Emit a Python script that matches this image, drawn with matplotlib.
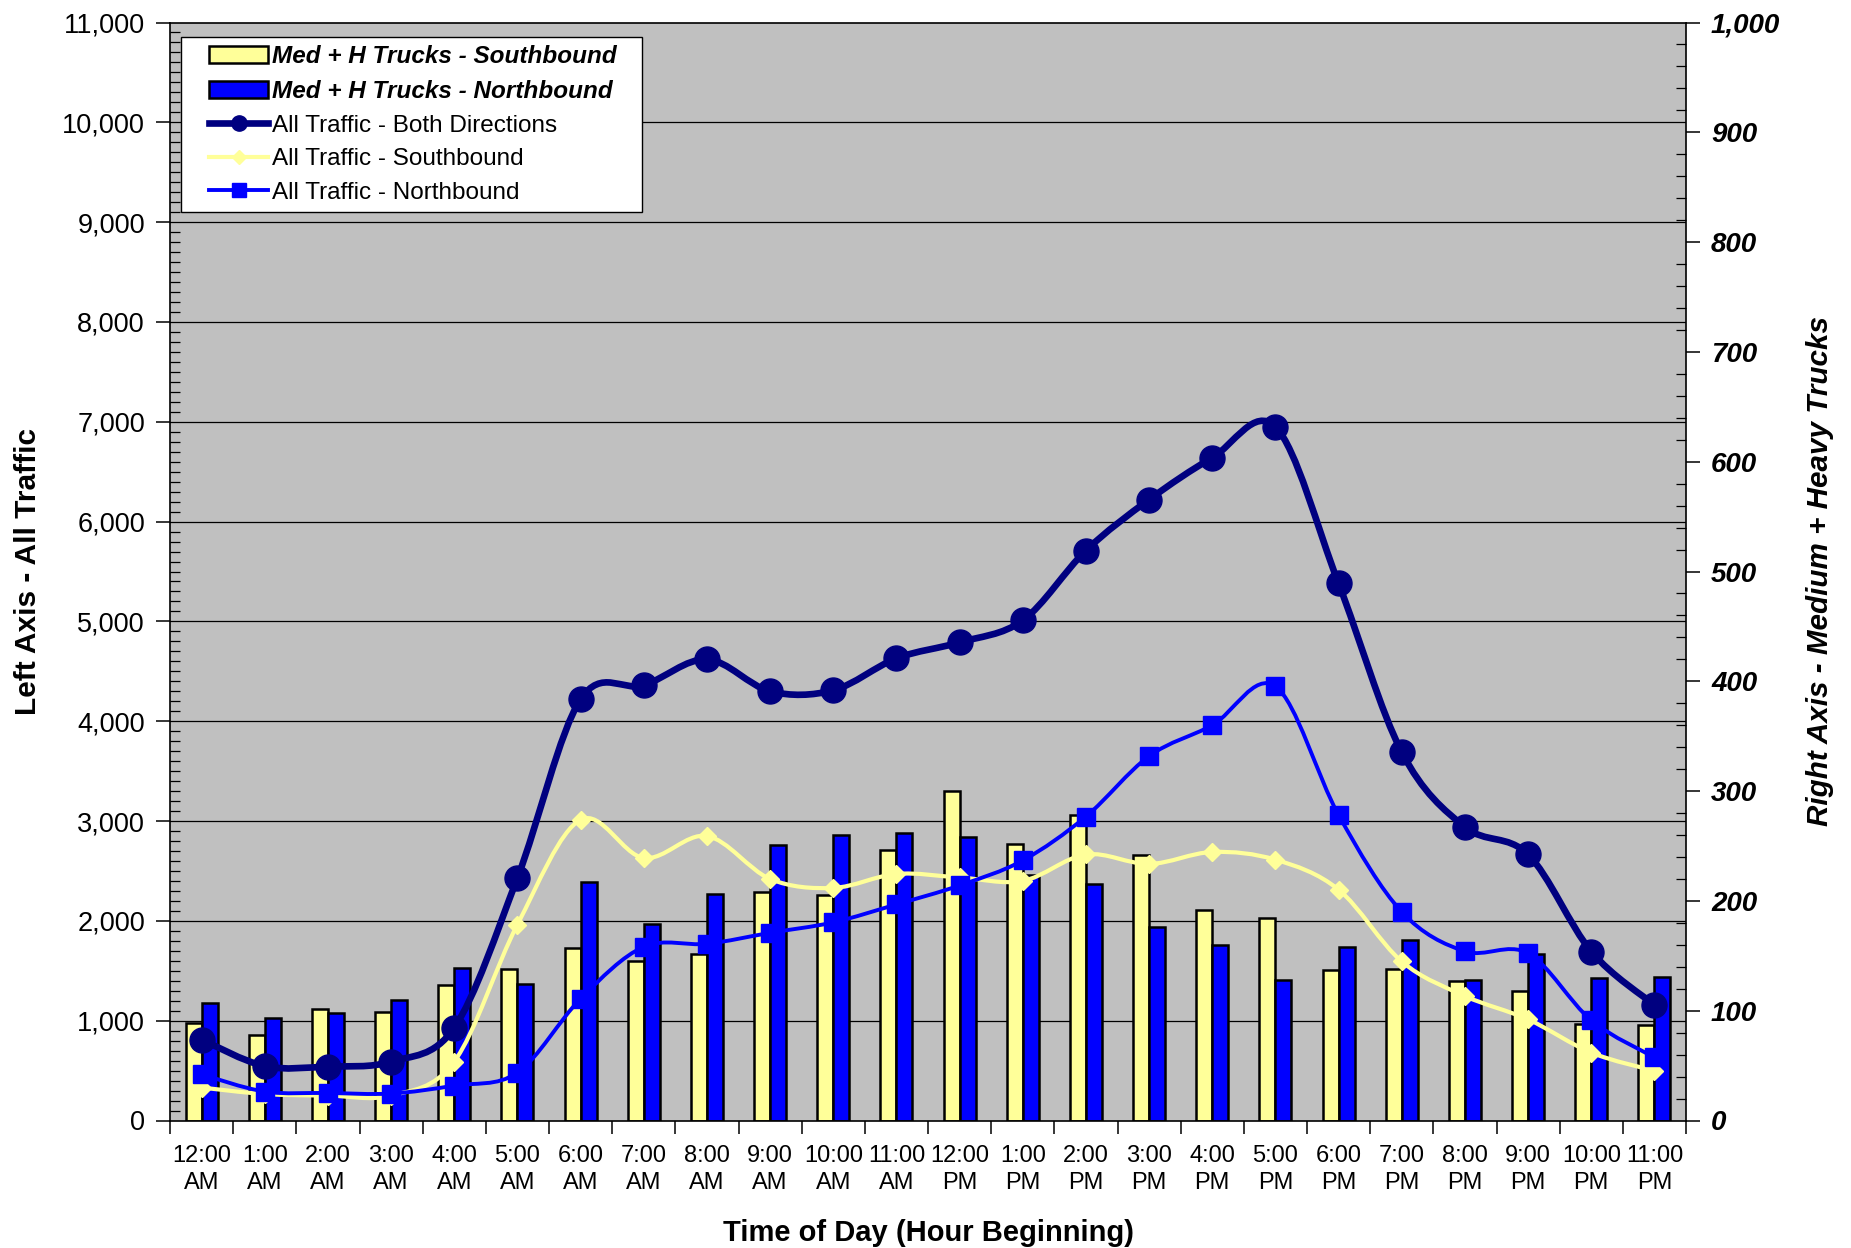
import numpy as np
import matplotlib
matplotlib.use('Agg')
import matplotlib.pyplot as plt
from matplotlib.path import Path
from matplotlib.patches import PathPatch, Patch
from matplotlib.lines import Line2D
from matplotlib.legend_handler import HandlerPatch, HandlerLine2D
from matplotlib.ticker import MultipleLocator, FixedLocator, NullFormatter
import matplotlib.transforms as mtransforms

plt.rcParams['font.family'] = ['Liberation Sans', 'DejaVu Sans']

# ---------------- data ----------------
hours = ["12:00\nAM", "1:00\nAM", "2:00\nAM", "3:00\nAM", "4:00\nAM", "5:00\nAM",
         "6:00\nAM", "7:00\nAM", "8:00\nAM", "9:00\nAM", "10:00\nAM", "11:00\nAM",
         "12:00\nPM", "1:00\nPM", "2:00\nPM", "3:00\nPM", "4:00\nPM", "5:00\nPM",
         "6:00\nPM", "7:00\nPM", "8:00\nPM", "9:00\nPM", "10:00\nPM", "11:00\nPM"]

# right axis - medium + heavy trucks
trucks_sb = [89, 78, 102, 99, 123, 138, 157, 145, 152, 208, 205, 246,
             300, 252, 278, 242, 192, 184, 137, 138, 127, 118, 88, 87]
trucks_nb = [107, 93, 98, 110, 139, 124, 217, 179, 206, 251, 260, 262,
             258, 224, 215, 176, 160, 128, 158, 164, 128, 152, 130, 131]

# left axis - all traffic
all_both = [810, 545, 540, 590, 930, 2430, 4220, 4360, 4620, 4300, 4310, 4630,
            4790, 5010, 5710, 6220, 6640, 6950, 5380, 3690, 2940, 2665, 1693, 1157]
all_sb = [330, 265, 250, 250, 590, 1963, 3013, 2630, 2850, 2420, 2330, 2470,
          2435, 2400, 2665, 2570, 2690, 2613, 2313, 1593, 1247, 1013, 680, 497]
all_nb = [462, 290, 276, 270, 350, 480, 1220, 1740, 1770, 1880, 1985, 2165,
          2355, 2605, 3045, 3650, 3960, 4350, 3060, 2090, 1695, 1675, 1004, 632]

left_ticks = list(range(0, 11001, 1000))
right_ticks = list(range(0, 1001, 100))

labels = ["Med + H Trucks - Southbound", "Med + H Trucks - Northbound",
          "All Traffic - Both Directions", "All Traffic - Southbound",
          "All Traffic - Northbound"]

# ---------------- style ----------------
C_SB_BAR = '#FFFF99'
C_NB_BAR = '#0000FF'
C_NAVY = '#000080'
C_YEL = '#FFFF99'
C_BLUE = '#0000FF'
BG = '#C0C0C0'


def smooth_path(xs, ys):
    P = np.column_stack([xs, ys]).astype(float)
    n = len(P)
    verts = [P[0]]
    codes = [Path.MOVETO]
    for i in range(n - 1):
        p0 = P[i - 1] if i > 0 else P[i]
        p1 = P[i]
        p2 = P[i + 1]
        p3 = P[i + 2] if i + 2 < n else P[i + 1]
        c1 = p1 + (p2 - p0) / 6.0
        c2 = p2 - (p3 - p1) / 6.0
        verts += [c1, c2, p2]
        codes += [Path.CURVE4] * 3
    return Path(verts, codes)


W, H = 1851, 1248
fig = plt.figure(figsize=(W / 100, H / 100), dpi=100)
fig.patch.set_facecolor('white')

L, R, T, B = 170, 1686, 22.5, 1120.5
ax_bar = fig.add_axes([L / W, 1 - B / H, (R - L) / W, (B - T) / H])
ax_line = ax_bar.twinx()

ax_bar.set_facecolor(BG)
x = np.arange(len(hours))
bw = 0.254

ax_line.set_ylim(0, 11000)
ax_bar.set_ylim(0, 1000)
ax_bar.set_xlim(-0.5, len(hours) - 0.5)

# gridlines (left-axis values), behind bars
gtrans = mtransforms.blended_transform_factory(ax_bar.transAxes, ax_line.transData)
for v in left_ticks[1:-1]:
    ax_bar.add_line(Line2D([0, 1], [v, v], transform=gtrans, color='black',
                           lw=0.9, zorder=0.5))

# bars
ax_bar.bar(x - bw / 2, trucks_sb, width=bw, color=C_SB_BAR, edgecolor='black',
           linewidth=1.8, zorder=2)
ax_bar.bar(x + bw / 2, trucks_nb, width=bw, color=C_NB_BAR, edgecolor='black',
           linewidth=1.8, zorder=2)

# smooth lines + markers
series = [
    (all_sb, C_YEL, 3.0, 'D', 9, 3),
    (all_nb, C_BLUE, 2.8, 's', 12.5, 4),
    (all_both, C_NAVY, 4.8, 'o', 18, 5),
]
for vals, col, lw, mk, ms, z in series:
    ax_line.add_patch(PathPatch(smooth_path(x, vals), facecolor='none', edgecolor=col,
                                lw=lw, capstyle='round', joinstyle='round', zorder=z))
    ax_line.plot(x, vals, ls='none', marker=mk, ms=ms, color=col,
                 markeredgecolor=col, zorder=z + 0.1)

ax_line.set_ylim(0, 11000)
ax_bar.set_ylim(0, 1000)
ax_bar.set_xlim(-0.5, len(hours) - 0.5)

# axis sides
ax_line.yaxis.tick_left()
ax_line.yaxis.set_label_position('left')
ax_bar.yaxis.tick_right()
ax_bar.yaxis.set_label_position('right')

# left axis ticks
ax_line.set_yticks(left_ticks, labels=[f"{v:,}" for v in left_ticks], fontsize=19.5)
ax_line.yaxis.set_minor_locator(MultipleLocator(100))
ax_line.tick_params(axis='y', which='major', direction='out', length=10, width=1.1, pad=8)
ax_line.tick_params(axis='y', which='minor', direction='in', length=7, width=0.9)

# right axis ticks
ax_bar.set_yticks(right_ticks, labels=[f"{v:,}" for v in right_ticks], fontsize=20,
                  fontweight='bold', fontstyle='italic')
ax_bar.yaxis.set_minor_locator(MultipleLocator(20))
ax_bar.tick_params(axis='y', which='major', direction='out', length=10, width=1.1, pad=8)
ax_bar.tick_params(axis='y', which='minor', direction='in', length=7, width=0.9)

# x axis ticks: boundaries as major ticks, labels at minor (centers)
ax_bar.xaxis.set_major_locator(FixedLocator(np.arange(-0.5, len(hours), 1.0)))
ax_bar.xaxis.set_major_formatter(NullFormatter())
ax_bar.xaxis.set_minor_locator(FixedLocator(x))
ax_bar.set_xticklabels(hours, minor=True, fontsize=17, linespacing=1.3)
ax_bar.tick_params(axis='x', which='major', direction='out', length=9, width=1.1)
ax_bar.tick_params(axis='x', which='minor', length=0, pad=17.5)

for sp in ax_bar.spines.values():
    sp.set_color('black')
    sp.set_linewidth(1.2)
for sp in ax_line.spines.values():
    sp.set_visible(False)

# axis labels
ax_line.set_ylabel("Left Axis - All Traffic", fontsize=21.5, fontweight='bold')
ax_line.yaxis.set_label_coords(-0.0842, 0.500)
ax_bar.set_ylabel("Right Axis - Medium + Heavy Trucks", fontsize=21.3,
                  fontweight='bold', fontstyle='italic')
ax_bar.yaxis.set_label_coords(1.079, 0.50)
ax_bar.set_xlabel("Time of Day (Hour Beginning)", fontsize=21, fontweight='bold')
ax_bar.xaxis.set_label_coords(0.5, -0.0895)

# legend
handles = [
    Patch(facecolor=C_SB_BAR, edgecolor='black', linewidth=1.8),
    Patch(facecolor=C_NB_BAR, edgecolor='black', linewidth=1.8),
    Line2D([], [], color=C_NAVY, lw=4.8, marker='o', ms=11),
    Line2D([], [], color=C_YEL, lw=3.0, marker='D', ms=7.5),
    Line2D([], [], color=C_BLUE, lw=2.8, marker='s', ms=9.5),
]
hpad = 0.8
hmap = {handles[0]: HandlerPatch(xpad=hpad), handles[1]: HandlerPatch(xpad=hpad),
        handles[2]: HandlerLine2D(xpad=hpad), handles[3]: HandlerLine2D(xpad=hpad),
        handles[4]: HandlerLine2D(xpad=hpad)}
leg_w = (642 - 181) / (R - L)
leg_h = (210 - 37) / (B - T)
leg = ax_line.legend(handles, labels, loc='upper left',
                     bbox_to_anchor=(0.0073, 0.987 - leg_h, leg_w, leg_h), mode='expand',
                     borderaxespad=0, fontsize=17.5, frameon=True, fancybox=False,
                     shadow=False, framealpha=1, edgecolor='black', handlelength=3.23,
                     handletextpad=0.15, borderpad=0.35, labelspacing=0.48,
                     handler_map=hmap)
leg.get_frame().set_linewidth(1.0)
leg.set_zorder(20)
for t in leg.get_texts()[:2]:
    t.set_fontweight('bold')
    t.set_fontstyle('italic')

fig.savefig('out.png', dpi=100)
